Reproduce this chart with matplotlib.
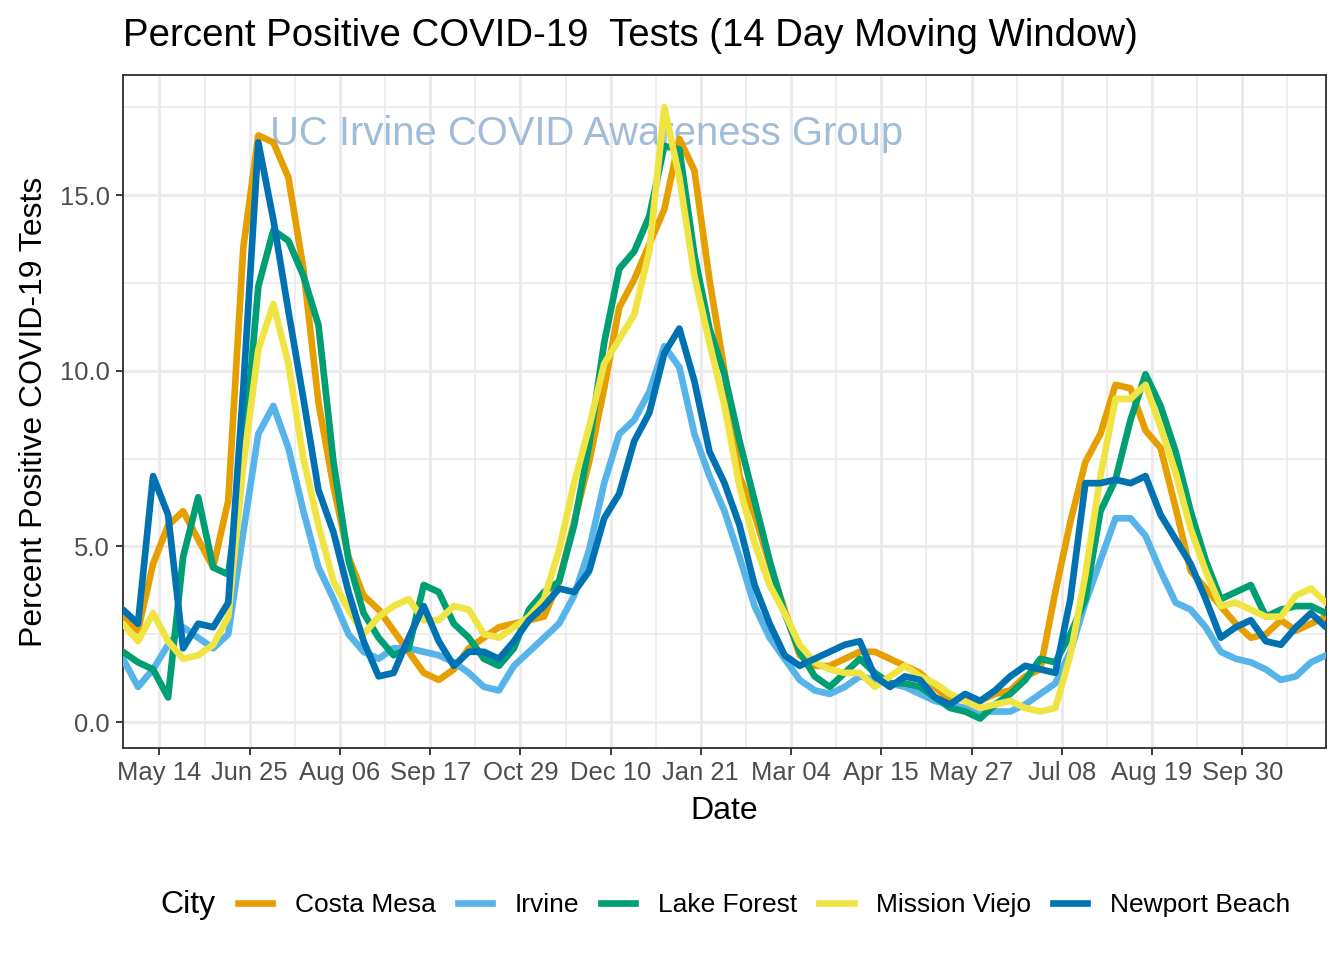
import matplotlib
matplotlib.use("Agg")
import matplotlib.pyplot as plt
from matplotlib.lines import Line2D
import pandas as pd

plt.rcParams["font.family"] = ["Liberation Sans", "DejaVu Sans"]

# ── Data (weekly readings of the 14-day moving window) ───────────────────────
dates = pd.date_range("2020-04-27", "2021-11-08", freq="7D")

costa_mesa = [
    3.0, 2.6, 4.5, 5.6, 6.0, 5.2, 4.4, 6.3, 13.5, 16.7,
    16.5, 15.5, 12.9, 9.1, 6.7, 4.7, 3.6, 3.2, 2.6, 2.0,
    1.4, 1.2, 1.5, 2.1, 2.4, 2.7, 2.8, 2.9, 3.0, 4.0,
    5.7, 7.4, 9.5, 11.8, 12.6, 13.6, 14.6, 16.6, 15.7, 12.6,
    10.0, 7.0, 5.9, 4.5, 3.2, 1.9, 1.6, 1.6, 1.8, 2.0,
    2.0, 1.8, 1.6, 1.4, 1.0, 0.6, 0.7, 0.6, 0.8, 0.9,
    1.3, 1.5, 3.7, 5.7, 7.4, 8.2, 9.6, 9.5, 8.3, 7.8,
    6.1, 4.3, 3.8, 3.3, 2.8, 2.4, 2.5, 2.9, 2.6, 2.8,
    3.0,
]
irvine = [
    1.8, 1.0, 1.5, 2.2, 2.7, 2.4, 2.1, 2.5, 5.4, 8.2,
    9.0, 7.8, 6.0, 4.4, 3.5, 2.5, 2.0, 1.8, 2.1, 2.1,
    2.0, 1.9, 1.7, 1.4, 1.0, 0.9, 1.6, 2.0, 2.4, 2.8,
    3.6, 4.9, 6.8, 8.2, 8.6, 9.4, 10.7, 10.1, 8.2, 7.0,
    6.0, 4.7, 3.3, 2.4, 1.8, 1.2, 0.9, 0.8, 1.0, 1.3,
    1.2, 1.1, 1.0, 0.8, 0.6, 0.5, 0.4, 0.3, 0.3, 0.3,
    0.5, 0.8, 1.1, 2.0, 3.4, 4.6, 5.8, 5.8, 5.3, 4.3,
    3.4, 3.2, 2.7, 2.0, 1.8, 1.7, 1.5, 1.2, 1.3, 1.7,
    1.9,
]
lake_forest = [
    2.0, 1.7, 1.5, 0.7, 4.7, 6.4, 4.4, 4.2, 7.5, 12.4,
    14.0, 13.7, 12.7, 11.3, 7.4, 4.6, 3.1, 2.4, 1.9, 2.1,
    3.9, 3.7, 2.8, 2.4, 1.8, 1.6, 2.1, 3.2, 3.7, 4.0,
    5.6, 7.9, 10.8, 12.9, 13.4, 14.4, 16.4, 16.3, 13.3, 11.2,
    9.9, 8.0, 6.3, 4.6, 3.1, 2.0, 1.3, 1.0, 1.4, 1.8,
    1.4, 1.1, 1.1, 1.0, 0.7, 0.4, 0.3, 0.1, 0.5, 0.8,
    1.2, 1.8, 1.7, 2.5, 3.5, 6.0, 6.9, 8.6, 9.9, 9.0,
    7.7, 6.0, 4.6, 3.5, 3.7, 3.9, 3.0, 3.2, 3.3, 3.3,
    3.1,
]
mission_viejo = [
    2.8, 2.3, 3.1, 2.3, 1.8, 1.9, 2.2, 3.0, 7.3, 10.6,
    11.9, 10.2, 7.5, 5.6, 4.0, 3.2, 2.5, 3.0, 3.3, 3.5,
    2.9, 2.9, 3.3, 3.2, 2.5, 2.4, 2.7, 3.0, 3.5, 4.9,
    6.8, 8.4, 10.2, 10.9, 11.6, 13.4, 17.5, 15.5, 12.7, 10.8,
    9.0, 6.7, 5.1, 3.9, 3.1, 2.2, 1.7, 1.5, 1.4, 1.4,
    1.0, 1.3, 1.6, 1.3, 1.1, 0.8, 0.6, 0.4, 0.5, 0.6,
    0.4, 0.3, 0.4, 1.9, 4.2, 7.0, 9.2, 9.2, 9.6, 8.4,
    7.1, 5.5, 4.3, 3.3, 3.4, 3.2, 3.0, 3.0, 3.6, 3.8,
    3.4,
]
newport_beach = [
    3.2, 2.8, 7.0, 5.9, 2.1, 2.8, 2.7, 3.4, 9.5, 16.5,
    14.3, 11.7, 9.2, 6.6, 5.4, 3.7, 2.3, 1.3, 1.4, 2.4,
    3.3, 2.3, 1.6, 2.0, 2.0, 1.8, 2.3, 2.9, 3.3, 3.8,
    3.7, 4.3, 5.8, 6.5, 8.0, 8.8, 10.5, 11.2, 9.7, 7.7,
    6.8, 5.6, 3.9, 2.8, 1.9, 1.6, 1.8, 2.0, 2.2, 2.3,
    1.3, 1.0, 1.3, 1.2, 0.7, 0.5, 0.8, 0.6, 0.9, 1.3,
    1.6, 1.5, 1.4, 3.5, 6.8, 6.8, 6.9, 6.8, 7.0, 5.9,
    5.2, 4.5, 3.5, 2.4, 2.7, 2.9, 2.3, 2.2, 2.7, 3.1,
    2.7,
]

cities = ["Costa Mesa", "Irvine", "Lake Forest", "Mission Viejo", "Newport Beach"]
series = [costa_mesa, irvine, lake_forest, mission_viejo, newport_beach]
colors = ["#E69F00", "#56B4E9", "#009E73", "#F0E442", "#0072B2"]

major_ticks = pd.date_range("2020-05-14", periods=13, freq="42D")
minor_ticks = pd.date_range("2020-06-04", periods=13, freq="42D")

# ── Plot ──────────────────────────────────────────────────────────────────────
fig = plt.figure(figsize=(7, 5), dpi=192)
ax = fig.add_axes([0.0915, 0.2208, 0.8951, 0.7011])

for name, vals, col in zip(cities, series, colors):
    ax.plot(dates, vals, color=col, lw=2.5, label=name, zorder=3,
            solid_joinstyle="round", solid_capstyle="round")

ax.text(pd.Timestamp("2020-11-29"), 16.75, "UC Irvine COVID Awareness Group",
        color="#A0BCD8", fontsize=15, ha="center", va="center", zorder=2)

ax.set_xlim(dates[0], dates[-1])
ax.set_ylim(-0.74, 18.42)
ax.set_xticks(major_ticks)
ax.set_xticklabels([d.strftime("%b %d") for d in major_ticks])
ax.set_xticks(minor_ticks, minor=True)
ax.set_yticks([0, 5, 10, 15])
ax.set_yticklabels(["0.0", "5.0", "10.0", "15.0"])
ax.set_yticks([2.5, 7.5, 12.5, 17.5], minor=True)

ax.grid(which="major", color="#EBEBEB", lw=1.1, zorder=0)
ax.grid(which="minor", color="#EBEBEB", lw=0.6, zorder=0)
ax.set_axisbelow(True)
ax.tick_params(which="major", length=2.75, width=0.7, color="#333333",
               labelsize=9.6, labelcolor="#4D4D4D", pad=2.2)
ax.tick_params(which="minor", length=0)
for sp in ax.spines.values():
    sp.set_color("#333333")
    sp.set_linewidth(0.7)

ax.set_xlabel("Date", fontsize=12, labelpad=4)
ax.set_ylabel("Percent Positive COVID-19 Tests", fontsize=12, labelpad=4)

fig.text(123 / 1344, 1 - 36 / 960,
         "Percent Positive COVID-19  Tests (14 Day Moving Window)",
         fontsize=14.4, ha="left", va="center")

handles = [Line2D([], [], color=c, lw=2.5) for c in colors]
fig.legend(handles, cities, loc="center", bbox_to_anchor=(764 / 1344, 1 - 905 / 960),
           ncol=5, frameon=False, fontsize=9.9, handlelength=1.3,
           handletextpad=0.85, columnspacing=0.84)
fig.text(160 / 1344, 1 - 905 / 960, "City", fontsize=12, ha="left", va="center")

fig.savefig("out.png", dpi=192)
